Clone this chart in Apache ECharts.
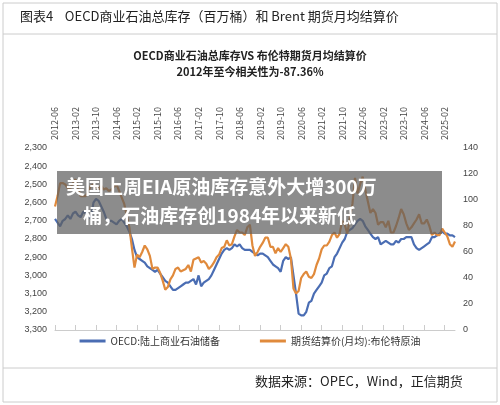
<!DOCTYPE html><html><head><meta charset="utf-8"><script src="https://cdn.jsdelivr.net/npm/echarts@6/dist/echarts.min.js"></script>
<style>body{margin:0;background:#fff}#c{width:500px;height:405px}</style></head><body><div id="c"></div><script>
const months=[];for(let y=2012,m=6;!(y===2025&&m===7);){months.push(y+'-'+String(m).padStart(2,'0'));m++;if(m>12){m=1;y++;}}
const oecd=[2690,2710,2730,2700,2690,2670,2690,
2660,2650,2670,2680,2650,2660,2670,2690,2600,2580,2590,2620,
2650,2690,2700,2700,2710,2720,2700,2690,2710,2730,2760,2800,
2860,2900,2910,2920,2930,2950,2960,2970,2980,2970,2990,3010,
3030,3040,3060,3080,3080,3070,3060,3050,3040,3040,3030,3020,
3050,3000,3060,3040,3030,3020,3000,2970,2940,2910,2880,2860,
2850,2860,2850,2830,2840,2830,2850,2860,2860,2860,2870,2880,
2890,2880,2880,2890,2900,2920,2940,2950,2960,2980,2920,2900,
2910,2900,3000,3100,3210,3220,3220,3200,3150,3140,3100,3080,
3060,3040,3000,2990,2960,2950,2900,2880,2850,2820,2800,2760,
2750,2740,2720,2700,2690,2700,2730,2750,2770,2790,2800,2790,
2830,2820,2810,2820,2830,2830,2810,2820,2800,2800,2790,2790,
2790,2830,2850,2860,2850,2840,2830,2820,2790,2790,2780,2770,
2760,2770,2770,2780,2780,2790];
const brent=[95,103,113,113,112,109,109,
113,116,109,103,103,103,107,111,112,110,108,111,
108,109,107,108,110,112,107,102,97,88,79,63,
48,58,56,60,65,62,57,47,48,48,44,38,
31,33,39,42,47,48,45,46,47,50,45,54,
55,56,52,53,51,47,49,52,56,58,63,64,
69,65,66,72,77,75,75,73,79,81,65,57,
60,64,67,71,71,64,64,59,63,60,63,66,
64,55,32,28,30,40,43,45,41,40,43,50,
55,62,65,65,68,73,75,71,74,84,81,74,
87,97,117,105,112,118,108,99,90,93,90,81,
83,83,79,84,75,75,80,86,93,89,82,77,
79,82,85,89,82,82,85,80,73,75,73,73,
78,75,72,66,64,68];
const leftTicks=[2300,2400,2500,2600,2700,2800,2900,3000,3100,3200,3300];
const c=echarts.init(document.getElementById('c'));
const F='"Noto Sans CJK SC",sans-serif';
c.setOption({animation:false,
grid:{left:55,right:45,top:148,bottom:75},
legend:{bottom:54,left:'center',itemWidth:26,itemHeight:3,icon:'rect',itemGap:40,textStyle:{fontSize:10,color:'#333',fontFamily:F},data:['OECD:陆上商业石油储备','期货结算价(月均):布伦特原油']},
xAxis:{type:'category',position:'top',data:months,boundaryGap:false,axisLine:{lineStyle:{color:'#ccc'}},axisTick:{show:true,interval:7,lineStyle:{color:'#ccc'}},
 axisLabel:{interval:7,rotate:90,fontSize:9,color:'#444',fontFamily:F}},
yAxis:[{type:'value',inverse:true,min:2300,max:3300,interval:100,splitLine:{show:false},axisLabel:{fontSize:9,color:'#444',formatter:v=>v.toLocaleString('en-US')}},
 {type:'value',min:0,max:140,interval:20,splitLine:{show:false},axisLabel:{fontSize:9,color:'#444'}}],
series:[{name:'OECD:陆上商业石油储备',type:'line',data:oecd,showSymbol:false,lineStyle:{width:2.2,color:'#4a6db3'},itemStyle:{color:'#4a6db3'}},
 {name:'期货结算价(月均):布伦特原油',type:'line',yAxisIndex:1,data:brent,showSymbol:false,lineStyle:{width:2.2,color:'#e08a3c'},itemStyle:{color:'#e08a3c'}}],
graphic:[
 {type:'rect',shape:{x:3,y:3,width:494,height:399},style:{fill:'none',stroke:'#ccc'},silent:true},
 {type:'line',shape:{x1:3,y1:34,x2:497,y2:34},style:{stroke:'#ccc'}},
 {type:'line',shape:{x1:3,y1:368,x2:497,y2:368},style:{stroke:'#ccc'}},
 {type:'text',left:20,top:10,style:{text:'图表4    OECD商业石油总库存（百万桶）和 Brent 期货月均结算价',fontSize:13,fill:'#222',fontFamily:F}},
 {type:'text',left:'center',top:50,style:{text:'OECD商业石油总库存VS 布伦特期货月均结算价',fontSize:11,fontWeight:'bold',fill:'#222',fontFamily:F}},
 {type:'text',left:'center',top:66,style:{text:'2012年至今相关性为-87.36%',fontSize:11,fontWeight:'bold',fill:'#222',fontFamily:F}},
 {type:'text',left:255,top:375,style:{text:'数据来源：OPEC，Wind，正信期货',fontSize:13,fill:'#222',fontFamily:F}},
 {type:'rect',shape:{x:57,y:171,width:385,height:63},style:{fill:'rgba(95,95,95,0.72)'},z:100},
 {type:'text',left:66,top:172,z:101,style:{text:'美国上周EIA原油库存意外大增300万\n    桶，石油库存创1984年以来新低',fontSize:19,lineHeight:29,fontWeight:'bold',fill:'#fff',fontFamily:F}}
]});
</script></body></html>
